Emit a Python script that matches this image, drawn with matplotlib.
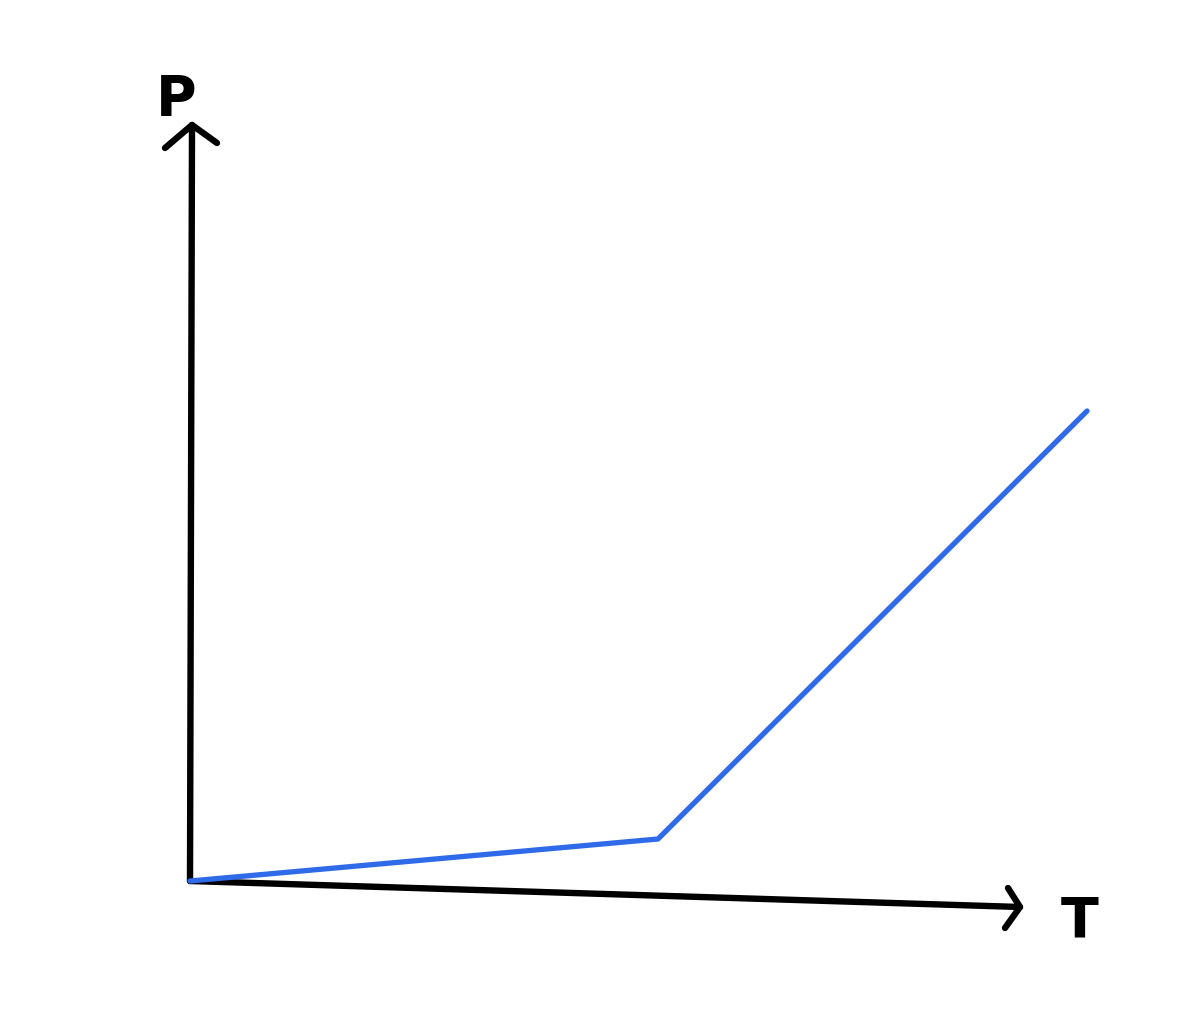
import matplotlib.pyplot as plt

# sketch of P against T, in drawing units (origin where the axes meet)
T = [0, 468, 897]
P = [0, 42, 470]

# hand-drawn axes: P axis goes straight up, T axis droops a little
p_axis_T = [0, 2]
p_axis_P = [0, 756]
t_axis_T = [0, 830]
t_axis_P = [0, -26]

fig = plt.figure(figsize=(11.81, 10.13), dpi=100)
ax = fig.add_axes([0, 0, 1, 1])
ax.set_xlim(-190, 991)
ax.set_ylim(-132, 881)
ax.axis("off")

ink = dict(color="black", lw=4.6, solid_capstyle="round", solid_joinstyle="round")
ax.plot(p_axis_T, p_axis_P, **ink)
ax.plot(t_axis_T, t_axis_P, **ink)

# arrow heads
ax.plot([-25, p_axis_T[1], 27], [733, p_axis_P[1], 738], **ink)
ax.plot([818, t_axis_T[1], 815], [-7, t_axis_P[1], -47], **ink)

ax.plot(T, P, color="#2f6ae9", lw=3.8, solid_capstyle="round", solid_joinstyle="round")

ax.text(-14, 766, "P", fontsize=40, fontweight="bold", ha="center", va="baseline")
ax.text(890, -40, "T", fontsize=40, fontweight="bold", ha="center", va="center")

fig.savefig("out.png", dpi=100, facecolor="white")
